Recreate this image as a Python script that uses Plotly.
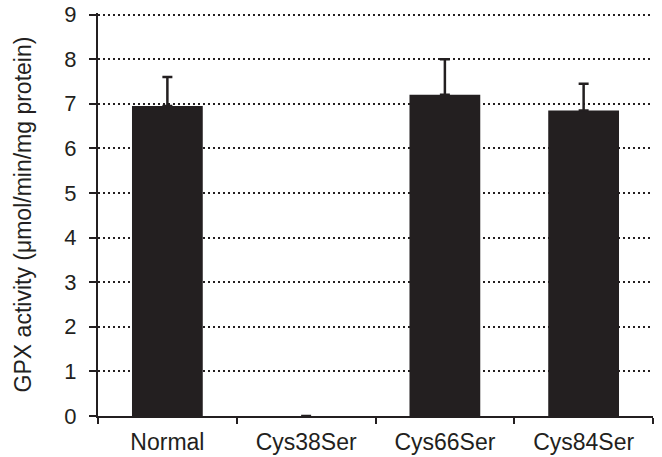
import plotly.graph_objects as go

categories = ["Normal", "Cys38Ser", "Cys66Ser", "Cys84Ser"]
values = [6.95, 0, 7.2, 6.85]
errors = [0.65, None, 0.8, 0.6]
errors_minus = [0, None, 0, 0]
y_ticks = [0, 1, 2, 3, 4, 5, 6, 7, 8, 9]

fig = go.Figure()
fig.add_trace(go.Bar(
    x=categories, y=values,
    marker=dict(color="#231f20", line=dict(width=0)),
    width=0.51,
    error_y=dict(type="data", array=errors, arrayminus=errors_minus,
                 symmetric=False, color="#231f20", thickness=2.5, width=5),
))

fig.update_layout(
    width=662, height=457,
    margin=dict(l=98, r=9, t=13, b=41),
    paper_bgcolor="white", plot_bgcolor="white",
    showlegend=False,
    font=dict(family="Liberation Sans, Arial, sans-serif", color="#231f20"),
    xaxis=dict(
        type="category", tickson="boundaries", ticks="outside", ticklen=6,
        tickwidth=2, tickcolor="#231f20", automargin=False,
        showline=True, linecolor="#231f20", linewidth=2,
        showgrid=False, tickfont=dict(size=23), ticklabelstandoff=4,
    ),
    yaxis=dict(
        range=[0, 9.035], tickvals=y_ticks, ticks="outside", ticklen=7,
        tickwidth=2, tickcolor="#231f20", automargin=False,
        showline=True, linecolor="#231f20", linewidth=2,
        showgrid=True, gridcolor="#231f20", gridwidth=1.6, griddash="2px,3px",
        zeroline=False, tickfont=dict(size=22), ticklabelstandoff=8,
        title=dict(text="GPX activity (μmol/min/mg protein)", font=dict(size=23), standoff=26),
    ),
    bargap=0.49,
)

fig.write_html("out.html", config={"displayModeBar": False},
               post_script="document.body.style.margin='0';")
